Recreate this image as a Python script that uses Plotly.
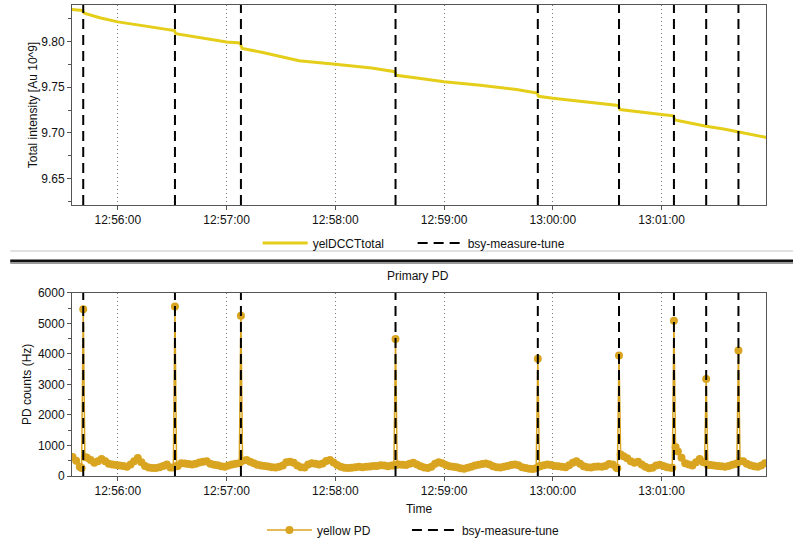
import pandas as pd
import plotly.graph_objects as go

# All times are seconds after 12:55:00
BASE = pd.Timestamp("2020-01-01 12:55:00")

# Top panel: yelDCCTtotal (Au 10^9)
dcct_t = [34.5, 40.5, 41.5, 50, 60, 75, 91.2, 92.0, 105, 120, 127.5, 128.5,
          140, 160, 180, 200, 212.8, 213.6, 225, 240, 260, 280, 291.3, 292.1,
          300, 320, 336.0, 337.0, 350, 360, 366.5, 367.3, 375, 384.6, 395,
          402.4, 410, 418]
dcct_v = [9.835, 9.834, 9.831, 9.826, 9.8215, 9.817, 9.812, 9.8085, 9.804,
          9.7995, 9.7985, 9.7925, 9.788, 9.779, 9.775, 9.771, 9.767, 9.763,
          9.760, 9.756, 9.752, 9.7475, 9.7436, 9.740, 9.738, 9.734, 9.730,
          9.7255, 9.722, 9.720, 9.7186, 9.714, 9.711, 9.7072, 9.704, 9.701,
          9.698, 9.6949]

# bsy-measure-tune events
tune_t = [40.9, 91.5, 127.9, 213.2, 291.7, 336.5, 366.8, 384.6, 402.4]

# Bottom panel: yellow PD (Hz), baseline samples every 2 s starting at 35 s
pd_start = 35
pd_step = 2
pd_base_v = [620, 500, 300, 260, 600, 520, 430, 480, 560, 480,
             400, 380, 360, 340, 330, 300, 380, 480, 590, 450,
             330, 280, 260, 260, 290, 330, 380, 280, 230, 330,
             420, 410, 390, 380, 400, 440, 470, 480, 400, 370,
             350, 320, 300, 340, 380, 400, 420, 500, 520, 470,
             420, 370, 340, 330, 310, 290, 280, 300, 340, 450,
             470, 430, 340, 290, 280, 380, 420, 400, 380, 410,
             490, 520, 440, 360, 300, 270, 260, 270, 290, 300,
             290, 300, 310, 330, 330, 350, 340, 320, 340, 360,
             380, 370, 360, 400, 430, 380, 320, 280, 260, 300,
             400, 450, 420, 360, 320, 300, 290, 250, 240, 270,
             300, 340, 370, 390, 410, 380, 320, 290, 280, 300,
             330, 360, 380, 350, 290, 260, 240, 230, 250, 320,
             350, 380, 360, 330, 320, 300, 290, 350, 430, 480,
             400, 320, 290, 280, 300, 310, 300, 330, 390, 380,
             280, 250, 650, 580, 480, 430, 470, 380, 300, 250,
             270, 340, 370, 330, 290, 270, 250, 800, 600, 420,
             380, 340, 450, 560, 450, 360, 360, 340, 330, 320,
             300, 330, 370, 400, 450, 480, 400, 350, 320, 300,
             340, 420, 430]
# PD around each tune event: just before, peak, just after
pd_pre_v = [260, 280, 420, 340, 250, 250, 270, 450, 400]
pd_peak_v = [5460, 5550, 5250, 4490, 3840, 3950, 5080, 3180, 4110]
pd_post_v = [620, 330, 500, 380, 320, 700, 950, 360, 480]

YEL = "#E5CE1A"
GOLD = "#D9A521"

def ts(secs):
    return [BASE + pd.Timedelta(seconds=s) for s in secs]

base_t = [pd_start + pd_step * k for k in range(len(pd_base_v))]
pts = [(t, v) for t, v in zip(base_t, pd_base_v)
       if min(abs(t - e) for e in tune_t) > 1.25]
for e, a, p, b in zip(tune_t, pd_pre_v, pd_peak_v, pd_post_v):
    pts += [(e - 0.9, a), (e, p), (e + 0.9, b)]
pts.sort()
pd_t = [p[0] for p in pts]
pd_v = [p[1] for p in pts]

top_rng = [9.621, 9.840]
bot_rng = [0, 6000]

def event_xy(rng):
    xs, ys = [], []
    for t in tune_t:
        x = BASE + pd.Timedelta(seconds=t)
        xs += [x, x, None]
        ys += [rng[0], rng[1], None]
    return xs, ys

fig = go.Figure()
fig.add_trace(go.Scatter(x=ts(dcct_t), y=dcct_v, mode="lines", name="yelDCCTtotal",
                         line=dict(color=YEL, width=3), xaxis="x", yaxis="y",
                         legend="legend", legendwidth=95))
ex, ey = event_xy(top_rng)
fig.add_trace(go.Scatter(x=ex, y=ey, mode="lines", name="bsy-measure-tune",
                         line=dict(color="black", width=2, dash="10px,6px"),
                         xaxis="x", yaxis="y", legend="legend"))
fig.add_trace(go.Scatter(x=ts(pd_t), y=pd_v, mode="lines+markers", name="yellow PD",
                         line=dict(color=GOLD, width=1.5),
                         marker=dict(color=GOLD, size=8),
                         xaxis="x2", yaxis="y2", legend="legend2", legendwidth=85))
ex2, ey2 = event_xy(bot_rng)
fig.add_trace(go.Scatter(x=ex2, y=ey2, mode="lines", name="bsy-measure-tune",
                         line=dict(color="black", width=2, dash="10px,6px"),
                         xaxis="x2", yaxis="y2", legend="legend2"))

x_rng = [BASE + pd.Timedelta(seconds=34.7), BASE + pd.Timedelta(seconds=417.6)]
FONT = dict(family="Liberation Sans, Arial, sans-serif", size=12, color="#111")

xcommon = dict(range=x_rng, type="date", tickformat="%H:%M:%S", dtick=60000,
               tick0=BASE + pd.Timedelta(seconds=60), showgrid=True,
               gridcolor="#777", griddash="1px,3px", gridwidth=1,
               ticks="outside", ticklen=4, tickcolor="#555",
               showline=True, linecolor="#555", linewidth=1, mirror=True,
               zeroline=False, tickfont=FONT)
ycommon = dict(showgrid=False, ticks="outside", ticklen=4, tickcolor="#555",
               showline=True, linecolor="#555", linewidth=1, mirror=True,
               zeroline=False, tickfont=FONT)

fig.update_layout(
    width=793, height=546,
    margin=dict(l=72, r=27, t=5, b=70, autoexpand=False),
    paper_bgcolor="white", plot_bgcolor="white",
    font=FONT,
    xaxis=dict(domain=[0, 1], anchor="y", **xcommon),
    yaxis=dict(domain=[0.5754, 1], range=top_rng, dtick=0.05, tickformat=".2f",
               minor=dict(dtick=0.025, ticks="outside", ticklen=3, tickcolor="#555"),
               title=dict(text="Total intensity [Au 10^9]", font=FONT, standoff=1),
               **ycommon),
    xaxis2=dict(domain=[0, 1], anchor="y2",
                title=dict(text="Time", font=FONT, standoff=7), **xcommon),
    yaxis2=dict(domain=[0, 0.389], range=bot_rng, dtick=1000,
                minor=dict(dtick=500, ticks="outside", ticklen=3, tickcolor="#555"),
                title=dict(text="PD counts (Hz)", font=FONT, standoff=3),
                **ycommon),
    legend=dict(orientation="h", x=0.493, xanchor="center", y=0.4947, yanchor="middle",
                font=FONT, bgcolor="rgba(0,0,0,0)", itemwidth=45),
    legend2=dict(orientation="h", x=0.492, xanchor="center", y=-0.1146, yanchor="middle",
                 font=FONT, bgcolor="rgba(0,0,0,0)", itemwidth=45),
    annotations=[dict(text="Primary PD", x=0.499, y=0.4246, xref="paper", yref="paper",
                      showarrow=False, font=FONT, xanchor="center", yanchor="middle")],
    shapes=[
        dict(type="line", xref="paper", yref="paper", x0=-0.089, x1=1.04,
             y0=0.4777, y1=0.4777, line=dict(color="#e2e2e2", width=2)),
        dict(type="line", xref="paper", yref="paper", x0=-0.089, x1=1.04,
             y0=0.4565, y1=0.4565, line=dict(color="#111", width=3)),
        dict(type="line", xref="paper", yref="paper", x0=-0.089, x1=1.04,
             y0=0.4522, y1=0.4522, line=dict(color="#9a9a9a", width=2)),
    ],
    showlegend=True,
)

fig.write_html("out.html")
